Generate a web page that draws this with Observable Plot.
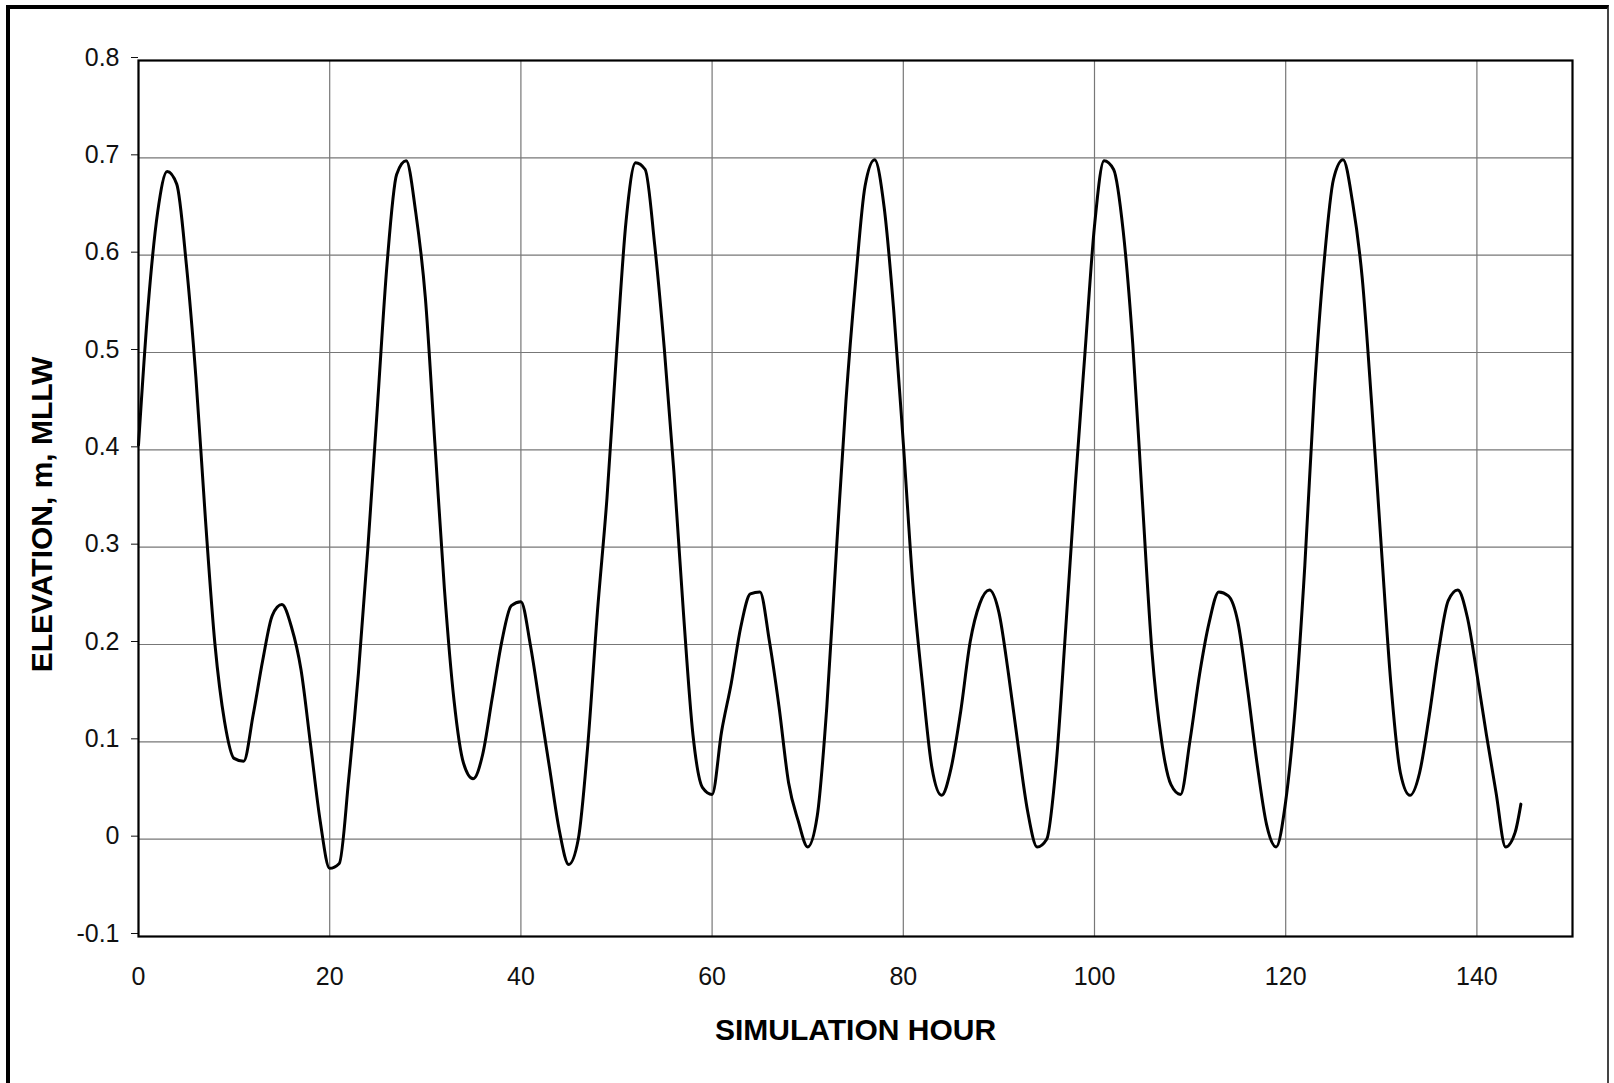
<!DOCTYPE html>
<html>
<head>
<meta charset="utf-8">
<script src="https://cdn.jsdelivr.net/npm/d3@7"></script>
<script src="https://cdn.jsdelivr.net/npm/@observablehq/plot@0.6"></script>
<style>
  html, body { margin: 0; padding: 0; background: #fff; }
  #wrap { position: relative; width: 1614px; height: 1083px; overflow: hidden; }
  #wrap svg { position: absolute; left: 0; top: 0; }
  #border { position: absolute; left: 6px; top: 5px; width: 1603px; height: 1090px;
            border-top: 4px solid #000; border-left: 4px solid #000; border-right: 2px solid #444;
            box-sizing: border-box; pointer-events: none; }
</style>
</head>
<body>
<div id="wrap"><div id="border"></div></div>
<script>
// Simulation hour (x) and water-surface elevation, m MLLW (y)
const hours = [
  0,1,2,3,4,5,6,7,8,9,10,11,12,13,14,15,16,17,18,19,20,21,22,23,24,
  25,26,27,28,29,30,31,32,33,34,35,36,37,38,39,40,41,42,43,44,45,46,47,48,49,
  50,51,52,53,54,55,56,57,58,59,60,61,62,63,64,65,66,67,68,69,70,71,72,73,74,
  75,76,77,78,79,80,81,82,83,84,85,86,87,88,89,90,91,92,93,94,95,96,97,98,99,
  100,101,102,103,104,105,106,107,108,109,110,111,112,113,114,115,116,117,118,119,120,121,122,123,124,
  125,126,127,128,129,130,131,132,133,134,135,136,137,138,139,140,141,142,143,144,144.6
];
const elevation = [
  0.405,0.547,0.644,0.686,0.673,0.591,0.475,0.329,0.200,0.121,0.083,0.080,0.128,0.184,0.230,0.241,0.218,0.174,0.097,0.019,-0.030,-0.025,0.063,0.170,0.300,
  0.446,0.591,0.683,0.697,0.644,0.557,0.407,0.257,0.143,0.078,0.062,0.087,0.145,0.203,0.240,0.244,0.199,0.136,0.073,0.010,-0.026,0.000,0.097,0.233,0.350,
  0.499,0.635,0.695,0.688,0.610,0.504,0.378,0.233,0.107,0.053,0.046,0.111,0.160,0.218,0.252,0.254,0.203,0.136,0.058,0.019,-0.008,0.024,0.136,0.296,0.450,
  0.572,0.671,0.698,0.649,0.543,0.407,0.262,0.160,0.073,0.045,0.073,0.131,0.203,0.242,0.256,0.233,0.170,0.097,0.029,-0.008,0.000,0.078,0.218,0.365,0.499,
  0.630,0.697,0.688,0.625,0.509,0.349,0.194,0.102,0.056,0.046,0.102,0.170,0.223,0.254,0.250,0.223,0.155,0.078,0.015,-0.008,0.039,0.136,0.281,0.460,0.591,
  0.678,0.698,0.654,0.577,0.446,0.300,0.160,0.068,0.045,0.068,0.126,0.194,0.245,0.256,0.228,0.170,0.107,0.048,-0.008,0.007,0.036
];
const xTicks = [0, 20, 40, 60, 80, 100, 120, 140];
const yTicks = [-0.1, 0, 0.1, 0.2, 0.3, 0.4, 0.5, 0.6, 0.7, 0.8];
const xTitle = ["SIMULATION HOUR"];
const yTitle = ["ELEVATION, m, MLLW"];

const data = hours.map((h, i) => ({hour: h, elev: elevation[i]}));
const fmt = d => String(Math.round(d * 10) / 10);

const chart = Plot.plot({
  width: 1614,
  height: 1083,
  marginLeft: 138,
  marginRight: 42,
  marginTop: 60,
  marginBottom: 147,
  style: {fontFamily: "'Liberation Sans', Arial, Helvetica, sans-serif", background: "transparent", color: "#000"},
  x: {domain: [0, 150], label: null},
  y: {domain: [-0.1, 0.8], label: null},
  marks: [
    Plot.gridX(xTicks, {stroke: "#777", strokeOpacity: 1, strokeWidth: 1.2}),
    Plot.gridY(yTicks, {stroke: "#777", strokeOpacity: 1, strokeWidth: 1.2}),
    Plot.axisX({ticks: xTicks, tickSize: 0, tickPadding: 31, fontSize: 25, tickFormat: fmt, label: null, color: "#111"}),
    Plot.axisY({ticks: yTicks, tickSize: 7, tickPadding: 12, fontSize: 25, tickFormat: fmt, label: null, color: "#111", dy: -3}),
    Plot.line(data, {x: "hour", y: "elev", curve: "monotone-x", stroke: "#000", strokeWidth: 3, strokeLinejoin: "round"}),
    Plot.frame({stroke: "#000", strokeWidth: 2.2}),
    Plot.text(xTitle, {frameAnchor: "bottom", lineAnchor: "middle", dy: 94, fontSize: 30, fontWeight: "bold", fill: "#000"}),
    Plot.text(yTitle, {frameAnchor: "left", lineAnchor: "middle", textAnchor: "middle", rotate: -90, dx: -96, dy: 16, fontSize: 30, fontWeight: "bold", fill: "#000"})
  ]
});
document.getElementById("wrap").appendChild(chart);
</script>
</body>
</html>
